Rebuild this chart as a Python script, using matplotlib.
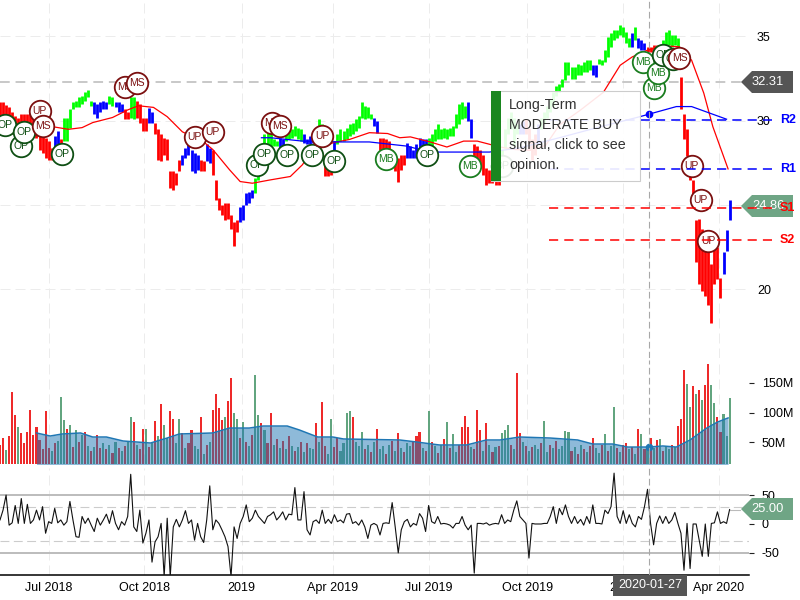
import matplotlib
matplotlib.use("Agg")
import matplotlib.pyplot as plt
from matplotlib.patches import Polygon, Rectangle
from matplotlib.transforms import Affine2D
import numpy as np

plt.rcParams['font.family'] = ['Liberation Sans', 'DejaVu Sans']
plt.rcParams['axes.unicode_minus'] = False

# every sample is two bars apart on the trading-day axis
BAR_STEP = 2
# prices below were read a touch low against the 35 and 20 grid lines
READ_OFFSET = 0.08

price_high = [
    31.0, 31.0, 30.85, 30.7, 30.4, 30.2, 30.1, 30.3, 30.3, 30.3,
    30.4, 30.3, 30.1, 29.7, 29.1, 28.9, 28.7, 28.3, 29.0, 29.3,
    28.8, 30.1, 30.1, 30.6, 31.0, 31.1, 31.3, 31.4, 31.6, 31.75,
    31.1, 31.0, 30.9, 31.0, 31.1, 31.0, 31.4, 31.3, 31.0, 31.0,
    30.9, 30.6, 30.4, 31.3, 31.3, 31.1, 30.9, 30.1, 30.1, 30.65,
    30.4, 29.8, 29.4, 29.1, 28.9, 28.8, 26.9, 26.9, 26.8, 27.6,
    27.9, 28.3, 28.6, 28.2, 28.0, 27.9, 27.6, 27.5, 28.5, 28.3,
    28.2, 26.4, 25.3, 24.9, 25.0, 25.0, 24.3, 23.9, 24.0, 24.8,
    24.9, 25.6, 25.7, 25.8, 26.5, 27.3, 28.5, 29.1, 29.5, 29.3,
    28.8, 28.7, 28.9, 28.8, 29.1, 29.5, 29.4, 29.6, 29.5, 29.4,
    29.1, 28.8, 29.0, 29.1, 29.5, 30.0, 29.7, 27.9, 27.8, 27.6,
    28.7, 29.1, 29.4, 29.3, 29.5, 29.7, 29.8, 30.0, 30.2, 31.0,
    30.8, 30.7, 30.3, 30.1, 29.9, 28.9, 28.9, 28.8, 28.7, 28.2,
    27.9, 27.7, 27.9, 27.9, 28.6, 28.4, 28.2, 28.5, 28.9, 28.8,
    28.8, 28.9, 29.1, 29.4, 29.7, 29.4, 29.5, 29.4, 29.5, 29.6,
    30.3, 30.9, 31.0, 30.8, 31.0, 30.0, 28.5, 28.4, 28.2, 27.9,
    27.1, 27.0, 27.2, 27.0, 26.9, 28.2, 29.4, 30.1, 30.4, 30.1,
    29.7, 29.7, 29.9, 30.0, 29.5, 28.8, 29.1, 29.7, 30.1, 30.4,
    30.8, 31.2, 31.6, 32.0, 32.1, 32.4, 33.4, 33.4, 33.1, 33.1,
    33.3, 33.2, 33.4, 33.5, 33.5, 33.2, 33.2, 33.6, 33.5, 34.1,
    34.9, 35.1, 35.3, 35.3, 35.6, 35.5, 35.2, 34.8, 35.1, 35.5,
    34.8, 34.7, 34.5, 34.3, 34.3, 34.4, 34.4, 34.4, 34.7, 35.2,
    35.3, 35.0, 35.0, 34.8, 32.5, 30.3, 29.4, 27.8, 26.4, 24.0,
    24.1, 23.5, 23.1, 22.5, 21.4, 22.4, 22.4, 20.6, 22.1, 23.4,
    25.2,
]
price_low = [
    29.8, 29.7, 29.5, 29.4, 29.1, 28.8, 28.6, 29.1, 29.4, 29.5,
    29.3, 29.1, 28.9, 28.2, 28.0, 27.7, 27.6, 27.6, 28.2, 28.5,
    27.9, 28.7, 28.7, 29.5, 30.6, 30.7, 30.7, 30.9, 31.1, 31.3,
    30.8, 30.3, 30.1, 30.4, 30.6, 30.6, 30.9, 30.8, 30.7, 30.4,
    30.4, 30.0, 30.0, 30.1, 30.0, 30.1, 29.8, 29.3, 29.3, 29.8,
    29.8, 29.1, 27.6, 27.5, 27.9, 27.6, 25.9, 25.8, 26.1, 26.9,
    27.3, 27.7, 27.9, 26.9, 26.8, 27.0, 26.9, 26.9, 27.5, 27.4,
    26.7, 25.2, 24.6, 24.3, 24.0, 24.1, 23.5, 22.5, 23.3, 23.9,
    24.0, 24.9, 25.0, 25.3, 25.6, 26.4, 27.3, 28.2, 28.5, 28.3,
    28.4, 28.4, 28.3, 28.4, 28.7, 28.8, 28.9, 29.0, 28.8, 28.7,
    28.6, 28.5, 28.5, 28.6, 28.9, 29.1, 28.8, 26.6, 26.6, 26.7,
    28.1, 28.5, 28.7, 28.7, 28.8, 29.0, 29.1, 29.3, 29.5, 30.1,
    30.0, 30.1, 30.0, 29.6, 29.2, 28.2, 27.9, 27.8, 27.7, 27.3,
    26.9, 26.3, 27.0, 27.3, 27.7, 27.7, 27.7, 27.7, 28.1, 27.9,
    27.9, 28.2, 28.3, 28.7, 28.8, 28.8, 28.9, 28.8, 29.0, 29.0,
    29.5, 29.7, 30.0, 30.1, 29.9, 28.9, 27.6, 27.5, 27.1, 26.7,
    26.1, 26.2, 26.2, 26.1, 26.1, 27.3, 28.3, 29.1, 29.4, 28.4,
    29.1, 29.1, 29.1, 29.1, 28.2, 27.6, 27.9, 28.5, 29.4, 29.7,
    30.1, 30.4, 30.8, 31.4, 31.6, 31.9, 32.3, 32.6, 32.4, 32.4,
    32.6, 32.6, 32.8, 32.8, 32.9, 32.6, 32.5, 33.3, 33.2, 33.4,
    33.7, 34.3, 34.7, 34.8, 35.0, 34.9, 34.5, 34.3, 34.3, 34.7,
    34.2, 34.1, 34.1, 34.0, 34.0, 34.0, 34.0, 34.0, 34.1, 34.2,
    34.4, 34.3, 34.4, 34.3, 30.6, 28.8, 27.8, 26.4, 24.8, 21.5,
    20.2, 19.8, 19.5, 19.0, 17.9, 20.2, 20.5, 19.4, 20.8, 22.2,
    24.0,
]
# last sample index of each colour run, and its colour
run_ends = [17, 19, 20, 30, 35, 37, 40, 42, 44, 48, 50, 59, 65, 67, 69, 78, 83, 91, 93, 99, 103, 106, 109,
            110, 122, 124, 133, 140, 153, 155, 164, 170, 172, 176, 177, 194, 196, 207, 208, 209, 212, 217,
            223, 237, 240]
run_colors = "rbrgbgbrgrbrbrbrbgbgbgrbgbrbgbrgbrbgbgbgbrgrb"[:45]

ma_red_idx = [35, 45, 54, 61, 74, 84, 91, 101, 110, 120, 134, 140, 151, 158, 166, 178, 191, 199, 204, 219,
              230, 243, 255, 263, 270, 283, 294, 305, 314, 329, 339, 349, 359, 368, 382, 397, 408, 416, 426,
              437, 447, 455, 463, 469, 479]
ma_red = [29.55, 29.4, 29.5, 29.8, 30.1, 30.55, 30.8, 30.7, 30.15, 29.25, 28.65, 28.2, 27.0, 26.3, 26.2, 26.4,
          26.6, 27.3, 28.0, 28.6, 28.8, 29.2, 29.15, 28.9, 28.95, 28.65, 28.35, 28.7, 28.7, 28.35, 28.2, 28.15,
          28.45, 29.65, 30.55, 31.6, 33.2, 33.7, 34.1, 34.35, 34.3, 33.5, 31.55, 29.55, 27.05]
ma_blue_idx = [172, 178, 199, 224, 243, 268, 274, 288, 301, 322, 342, 368, 395, 421, 427, 445, 455, 478]
ma_blue = [28.9, 28.9, 28.7, 28.65, 28.65, 28.4, 28.25, 28.05, 28.05, 28.05, 28.3, 28.9, 29.55, 30.15, 30.3,
           30.75, 30.75, 30.0]

signal_idx = [3, 14, 16, 26, 28, 41, 82, 90, 128, 140, 169, 174, 179, 184, 189, 205, 212, 220, 254, 281, 309,
              330, 423, 430, 433, 436, 443, 447, 455, 461, 466]
signal_price = [29.66, 28.42, 29.25, 30.5, 29.6, 27.95, 31.9, 32.15, 28.95, 29.25, 27.3, 27.95, 29.8, 29.6,
                27.9, 27.9, 29.0, 27.5, 27.65, 27.9, 27.2, 27.2, 33.4, 31.85, 32.75, 33.8, 33.6, 33.65, 27.2,
                25.2, 22.8]
signal_text = ['OP', 'OP', 'OP', 'UP', 'MS', 'OP', 'MS', 'MS', 'UP', 'UP', 'OP', 'OP', 'MS', 'MS', 'OP', 'OP',
               'UP', 'OP', 'MB', 'OP', 'MB', 'OP', 'MB', 'MB', 'MB', 'OP', 'OP', 'MS', 'UP', 'UP', 'UP']

levels = {'R2': 29.96, 'R1': 27.05, 'S1': 24.73, 'S2': 22.85}

volume = [
    45, 58, 37, 60, 135, 96, 76, 65, 48, 68, 104, 62, 76, 54, 38, 102, 40, 35, 48, 52,
    127, 88, 73, 79, 42, 70, 50, 62, 68, 44, 35, 42, 62, 40, 48, 38, 46, 32, 50, 40,
    36, 44, 50, 93, 85, 45, 38, 73, 72, 42, 50, 86, 60, 114, 79, 58, 102, 90, 48, 90,
    66, 40, 48, 71, 44, 38, 92, 30, 46, 50, 104, 132, 108, 87, 93, 120, 159, 100, 90, 58,
    84, 50, 44, 63, 163, 96, 82, 70, 48, 100, 46, 56, 40, 52, 38, 60, 44, 36, 42, 50,
    34, 48, 40, 38, 82, 50, 118, 44, 30, 90, 42, 58, 36, 48, 100, 103, 93, 50, 44, 68,
    38, 46, 34, 50, 72, 38, 44, 30, 46, 52, 36, 66, 40, 34, 48, 44, 50, 61, 68, 40,
    36, 102, 50, 44, 32, 46, 55, 84, 40, 64, 34, 46, 75, 95, 75, 42, 38, 105, 71, 36,
    82, 46, 34, 42, 44, 65, 70, 79, 46, 38, 167, 65, 50, 44, 36, 42, 46, 38, 48, 86,
    34, 46, 40, 52, 38, 44, 69, 68, 36, 42, 30, 46, 38, 34, 44, 57, 40, 32, 46, 64,
    36, 44, 109, 40, 34, 46, 48, 38, 42, 30, 73, 64, 38, 44, 57, 40, 54, 55, 36, 44,
    38, 46, 42, 78, 90, 171, 148, 110, 144, 132, 138, 121, 146, 181, 146, 116, 93, 68, 97, 60, 125,
]
volume_colors = (
    "rrgrrrgrrrrrrrrrrgrg" "ggrgrgrgrgrgrrgrgrgr" "grggrgrrgrgrgrggrrgg" "rgrrggrgrgrrrrgrrggr"
    "grgrggrgrrgrgrgrgrgr" "grggrgrrggrrggggrggg" "rgrgrggrgrgrgrggrrrg" "rgrgrgrgrggrrrrgrrrg"
    "rgrgrgggrgrrgrgrggrg" "grgrggggrgrgrgrrggrg" "rggrgrrgrgrgrgrgrgrg" "grgrrrggrgrgrrggrrggg"
)
vol_ma_idx = [24, 33, 41, 53, 61, 70, 81, 99, 110, 118, 140, 151, 164, 173, 189, 197, 209, 219, 226, 263, 274,
              289, 307, 320, 329, 342, 362, 380, 390, 403, 413, 427, 436, 445, 454, 465, 472, 479]
vol_ma = [65.7, 60.6, 64, 65.7, 58.9, 58.9, 52.2, 48.8, 57.2, 64, 65.7, 74, 74, 77.4, 77.4, 70.7, 58.9, 58.9,
          55.6, 53.9, 50.5, 45.5, 45.5, 53.9, 53.9, 58.9, 57.2, 53.9, 47.1, 47.1, 42, 42, 43.8, 42, 53.9, 74,
          84, 91]

oscillator = [
    7, 24, 50, -2, 2, 32, 1, 44, 1, 34, 1, 7, 24, 7, 30, -16, 4, 1, 27, 2,
    7, -2, 4, 39, 7, -22, -23, 13, 1, 10, -2, -13, 10, -2, 7, 17, 1, 23, 1, -10,
    4, -2, 13, 86, -5, -13, 24, -33, -16, 7, -66, -31, -22, 1, -91, 10, -91, -5, 8, -5,
    7, 23, 1, 7, -28, 1, -22, -32, 7, 66, -10, 7, 1, -10, -22, -39, -91, -5, -25, 1,
    13, 33, 4, 10, 24, 13, 7, 1, 13, 16, 21, 7, 13, 21, 7, 17, 16, 63, 7, 7,
    56, -10, -19, 4, 7, 1, 24, 1, 8, 1, 16, 4, 7, 2, 17, 18, 1, 4, -2, 7,
    -5, -25, -2, 1, -2, -19, 1, 2, 1, 37, -5, -50, -10, 4, 8, -5, 1, -2, 18, 10,
    -13, 32, 4, 1, 13, 0, 1, 0, -2, -7, 1, 1, 13, -2, -10, -2, -85, 1, 1, 0,
    2, -2, 0, 1, 0, 16, 1, 7, 4, 24, 40, 13, 7, 1, -59, 1, 0, 0, 0, 1,
    1, 13, 30, 1, 27, 16, 33, 13, 1, 13, 1, 8, -2, 13, 1, 33, 1, 1, 0, 24,
    18, 30, 88, 13, 1, 23, 1, 16, 1, -5, 13, 8, 30, 60, 1, -36, 1, 14, 1, 13,
    1, 7, 20, 1, -16, -80, 1, -77, 0, 0, -28, -56, 0, -56, 1, 2, 21, 1, 4, 1, 25,
]

tick_idx = [32, 95, 159, 219, 282, 347, 410, 473]
tick_labels = ['Jul 2018', 'Oct 2018', '2019', 'Apr 2019', 'Jul 2019', 'Oct 2019', '2020', 'Apr 2020']
cross_idx = 427
last_price = 32.31
last_close = 24.86
last_osc = 25.00

COL = {'r': '#ff0000', 'g': '#00ff00', 'b': '#0000ff'}
px = Affine2D().scale(1, -1).translate(0, 600)
GRID = dict(color='#ececec', lw=0.72, ls=(0, (10, 5)))


def panel(top, bottom):
    a = fig.add_axes([0, 1 - bottom / 600, 749 / 800, (bottom - top) / 600])
    a.set_xlim(0, 749 / 1.52)
    a.patch.set_alpha(0)
    for s in a.spines.values():
        s.set_visible(False)
    a.set_xticks(tick_idx)
    a.set_xticklabels([])
    a.tick_params(axis='x', length=0)
    a.yaxis.tick_right()
    a.grid(True, **GRID)
    a.set_axisbelow(True)
    return a


fig = plt.figure(figsize=(8, 6), dpi=100)
ax = panel(0, 358)
ax_vol = panel(360, 464)
ax_osc = panel(468, 574.5)
ax.set_zorder(5)

# price bars
x_s = np.arange(len(price_high)) * BAR_STEP
bar_colors = []
start = 0
for end, c in zip(run_ends, run_colors):
    bar_colors += [COL[c]] * (end - start + 1)
    start = end + 1
ax.vlines(x_s, np.array(price_low) + READ_OFFSET, np.array(price_high) + READ_OFFSET, colors=bar_colors,
          lw=2.0, zorder=3)
ax.plot(ma_red_idx, np.array(ma_red) + READ_OFFSET, color='#ff0000', lw=0.9, zorder=4)
ax.plot(ma_blue_idx, np.array(ma_blue) + READ_OFFSET, color='#0000ff', lw=0.9, zorder=4)
ax.plot([cross_idx], [30.3 + READ_OFFSET], 'o', color='#0000ff', ms=4.5, zorder=4)
ax.set_ylim(35 - (358 - 36.3) / 16.85, 35 + 36.3 / 16.85)
ax.set_yticks([20, 25, 30, 35])
ax.tick_params(axis='y', length=0, pad=5.8, labelsize=9)

# last price lines
ax.axhline(last_price, color='#c8c8c8', lw=1.4, ls=(0, (5, 3)), xmax=741 / 749, zorder=2)
ax.plot([480, 487], [last_close, last_close], color='#bbbbbb', lw=0.8, clip_on=False, zorder=2)

# support and resistance
for name, val in levels.items():
    c = '#0000ff' if name[0] == 'R' else '#ff0000'
    val = val + READ_OFFSET
    ax.hlines(val, 361, 508, colors=c, lw=1.1, ls=(0, (6, 4)), clip_on=False, zorder=7)
    ax.text(513, val, name, color=c, fontsize=9, fontweight='bold', va='center', clip_on=False, zorder=7)

# signal circles
for i, p, t in zip(signal_idx, signal_price, signal_text):
    c = {'OP': '#0f4f14', 'MB': '#1a7d1f', 'MS': '#7b1010', 'UP': '#7b1010'}[t]
    ax.scatter([i], [p + READ_OFFSET], s=240, facecolor='white', edgecolor=c, linewidth=1.3, zorder=5)
    ax.text(i, p + READ_OFFSET, t, color=c, fontsize=7.5, ha='center', va='center', zorder=5)

# volume
vol_cols = ['#ee2a2a' if c == 'r' else '#62a57f' for c in volume_colors]
ax_vol.bar(x_s, volume, width=1.35, color=vol_cols, zorder=2)
ax_vol.fill_between(vol_ma_idx, 0, vol_ma, color='#1f77b4', alpha=0.5, lw=0, zorder=3)
ax_vol.plot(vol_ma_idx, vol_ma, color='#1f77b4', lw=1.1, zorder=4)
ax_vol.plot([cross_idx], [42], 'o', color='#1f77b4', ms=4.5, zorder=4)
ax_vol.set_ylim(50 - (464 - 442.3) / 0.594, 50 + (442.3 - 360) / 0.594)
ax_vol.set_yticks([50, 100, 150])
ax_vol.set_yticklabels(['50M', '100M', '150M'])
ax_vol.grid(False, axis='y')
ax_vol.tick_params(axis='y', length=3.6, width=0.8, color='#222222', pad=5.5, labelsize=9)

# oscillator
for lev in (50, -50):
    ax_osc.axhline(lev, color='#bcbcbc', lw=1.4, zorder=1)
for lev in (29.5, -30):
    ax_osc.axhline(lev, color='#cccccc', lw=0.8, ls=(0, (8, 4)), zorder=1)
ax_osc.plot(x_s, oscillator, color='#111111', lw=0.8, zorder=3)
ax_osc.plot([480, 487], [last_osc, last_osc], color='#bbbbbb', lw=0.8, zorder=2, clip_on=False)
ax_osc.set_ylim(-87.4, (524 - 468) / 0.578)
ax_osc.set_yticks([-50, 0, 50])
ax_osc.grid(False, axis='y')
ax_osc.tick_params(axis='y', length=3.6, width=0.8, color='#222222', pad=5.5, labelsize=9)
ax_osc.spines['bottom'].set_visible(True)
ax_osc.spines['bottom'].set_color('black')
ax_osc.spines['bottom'].set_linewidth(1.1)
ax_osc.set_xticklabels(tick_labels, fontsize=9)
ax_osc.tick_params(axis='x', pad=5.5)

# crosshair, one per panel
for a in (ax, ax_vol, ax_osc):
    a.axvline(cross_idx, color='#a8a8a8', lw=0.8, ls=(0, (6, 3)), zorder=4)

# tooltip, in pixels
ax.add_patch(Rectangle((491, 91), 149, 90, transform=px, fc=(1, 1, 1, 0.9), ec='#cccccc', lw=0.8,
                       clip_on=False, zorder=8))
ax.add_patch(Rectangle((491, 91), 10, 90, transform=px, fc='#1a861f', ec='none', clip_on=False, zorder=9))
for n, line in enumerate(['Long-Term', 'MODERATE BUY', 'signal, click to see', 'opinion.']):
    ax.text(509, 105 + n * 20, line, transform=px, fontsize=10.3, color='#333333', va='center',
            clip_on=False, zorder=9)


# right side value flags, in pixels
def flag(y, text, color):
    ax.add_patch(Polygon([(741, y), (752, y - 11), (793, y - 11), (793, y + 11), (752, y + 11)], transform=px,
                         fc=color, ec='none', clip_on=False, zorder=6))
    ax.text(768, y, text, transform=px, color='white', fontsize=9.3, ha='center', va='center', clip_on=False,
            zorder=6)


flag(82, f'{last_price:.2f}', '#555555')
flag(206, f'{last_close:.2f}', '#6fa585')
flag(509, f'{last_osc:.2f}', '#6fa585')

# crosshair date box
ax.add_patch(Rectangle((613, 575), 74, 21, transform=px, fc='#555555', ec='none', clip_on=False, zorder=9))
ax.text(650, 585.5, '2020-01-27', transform=px, color='white', fontsize=9, ha='center', va='center',
        clip_on=False, zorder=10)

fig.savefig('out.png', dpi=100)
